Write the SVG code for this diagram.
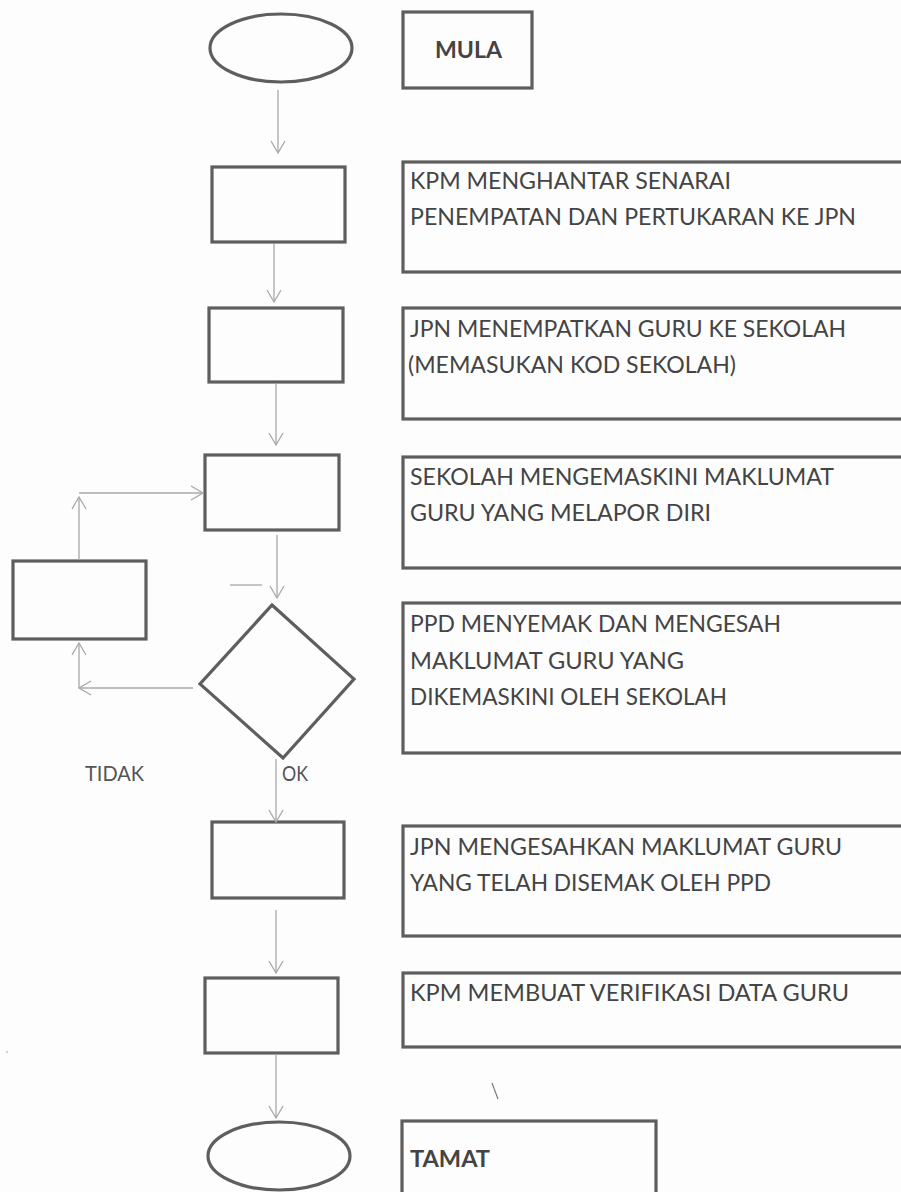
<svg xmlns="http://www.w3.org/2000/svg" width="901" height="1192" viewBox="0 0 901 1192">
<style>
.box{fill:none;stroke:#5e5e5e;stroke-width:3.2}
.con{fill:none;stroke:#a8a8a8;stroke-width:1.3}
.t{font-family:Lato,"Open Sans","Liberation Sans",sans-serif;font-size:24px;fill:#444}
.s{font-family:Lato,"Open Sans","Liberation Sans",sans-serif;font-size:21px;fill:#555}
.b{font-family:Lato,"Open Sans","Liberation Sans",sans-serif;font-size:23px;font-weight:bold;fill:#444}
</style>
<defs>
<marker id="ah" markerUnits="userSpaceOnUse" markerWidth="16" markerHeight="16" viewBox="-1 -8 15 16" refX="12" refY="0" orient="auto">
<path d="M0,-7 L12,0 L0,7" fill="none" stroke="#a8a8a8" stroke-width="1.3"/>
</marker>
</defs>
<rect width="901" height="1192" fill="#fdfdfd"/>
<g id="start">
<ellipse class="box" cx="281" cy="48" rx="71" ry="34"/>
</g>
<g id="mula">
<rect class="box" x="403" y="12" width="129" height="76"/>
<text class="b" x="435" y="58" textLength="67" lengthAdjust="spacingAndGlyphs">MULA</text>
</g>
<g id="step1">
<rect class="box" x="212" y="167" width="133" height="75"/>
</g>
<g id="desc1">
<rect class="box" x="403" y="162" width="510" height="110"/>
<text class="t" x="410" y="189" textLength="321" lengthAdjust="spacingAndGlyphs">KPM MENGHANTAR SENARAI</text>
<text class="t" x="410" y="225" textLength="446" lengthAdjust="spacingAndGlyphs">PENEMPATAN DAN PERTUKARAN KE JPN</text>
</g>
<g id="step2">
<rect class="box" x="209" y="308" width="134" height="74"/>
</g>
<g id="desc2">
<rect class="box" x="403" y="308" width="510" height="111"/>
<text class="t" x="410" y="337" textLength="436" lengthAdjust="spacingAndGlyphs">JPN MENEMPATKAN GURU KE SEKOLAH</text>
<text class="t" x="408" y="373" textLength="328" lengthAdjust="spacingAndGlyphs">(MEMASUKAN KOD SEKOLAH)</text>
</g>
<g id="step3">
<rect class="box" x="205" y="455" width="134" height="75"/>
</g>
<g id="desc3">
<rect class="box" x="403" y="457" width="510" height="111"/>
<text class="t" x="410" y="485" textLength="424" lengthAdjust="spacingAndGlyphs">SEKOLAH MENGEMASKINI MAKLUMAT</text>
<text class="t" x="410" y="521" textLength="301" lengthAdjust="spacingAndGlyphs">GURU YANG MELAPOR DIRI</text>
</g>
<g id="fix">
<rect class="box" x="13" y="561" width="133" height="78"/>
</g>
<g id="decision">
<polygon class="box" points="272,605 354,679 283,758 200,684"/>
</g>
<g id="desc4">
<rect class="box" x="403" y="603" width="510" height="150"/>
<text class="t" x="410" y="632" textLength="371" lengthAdjust="spacingAndGlyphs">PPD MENYEMAK DAN MENGESAH</text>
<text class="t" x="410" y="669" textLength="274" lengthAdjust="spacingAndGlyphs">MAKLUMAT GURU YANG</text>
<text class="t" x="410" y="705" textLength="317" lengthAdjust="spacingAndGlyphs">DIKEMASKINI OLEH SEKOLAH</text>
</g>
<g id="labels">
<text class="s" x="85" y="781" textLength="59" lengthAdjust="spacingAndGlyphs">TIDAK</text>
<text class="s" x="282" y="781" textLength="26" lengthAdjust="spacingAndGlyphs">OK</text>
</g>
<g id="step5">
<rect class="box" x="212" y="822" width="132" height="76"/>
</g>
<g id="desc5">
<rect class="box" x="403" y="826" width="510" height="110"/>
<text class="t" x="410" y="855" textLength="432" lengthAdjust="spacingAndGlyphs">JPN MENGESAHKAN MAKLUMAT GURU</text>
<text class="t" x="410" y="891" textLength="361" lengthAdjust="spacingAndGlyphs">YANG TELAH DISEMAK OLEH PPD</text>
</g>
<g id="step6">
<rect class="box" x="205" y="978" width="133" height="75"/>
</g>
<g id="desc6">
<rect class="box" x="403" y="973" width="510" height="74"/>
<text class="t" x="410" y="1001" textLength="439" lengthAdjust="spacingAndGlyphs">KPM MEMBUAT VERIFIKASI DATA GURU</text>
</g>
<g id="end">
<ellipse class="box" cx="279" cy="1156" rx="71" ry="34"/>
</g>
<g id="tamat">
<rect class="box" x="402" y="1121" width="254" height="90"/>
<text class="b" x="410" y="1167" textLength="80" lengthAdjust="spacingAndGlyphs">TAMAT</text>
</g>
<g id="connectors">
<line class="con" x1="278" y1="90" x2="278" y2="153" marker-end="url(#ah)"/>
<line class="con" x1="274" y1="243" x2="274" y2="302" marker-end="url(#ah)"/>
<line class="con" x1="276" y1="383" x2="276" y2="445" marker-end="url(#ah)"/>
<line class="con" x1="277" y1="535" x2="277" y2="598" marker-end="url(#ah)"/>
<line class="con" x1="276" y1="759" x2="276" y2="822" marker-end="url(#ah)"/>
<line class="con" x1="276" y1="910" x2="276" y2="973" marker-end="url(#ah)"/>
<line class="con" x1="276" y1="1054" x2="276" y2="1118" marker-end="url(#ah)"/>
<line class="con" x1="193" y1="688" x2="79" y2="688" marker-end="url(#ah)"/>
<line class="con" x1="79" y1="688" x2="79" y2="643" marker-end="url(#ah)"/>
<line class="con" x1="79" y1="560" x2="79" y2="497" marker-end="url(#ah)"/>
<line class="con" x1="79" y1="493" x2="203" y2="493" marker-end="url(#ah)"/>
<line class="con" x1="230" y1="585" x2="262" y2="585"/>
</g>
<line x1="492" y1="1083" x2="498" y2="1099" stroke="#777" stroke-width="1.2"/>
<circle cx="7" cy="1052" r="0.8" fill="#999"/>
</svg>
